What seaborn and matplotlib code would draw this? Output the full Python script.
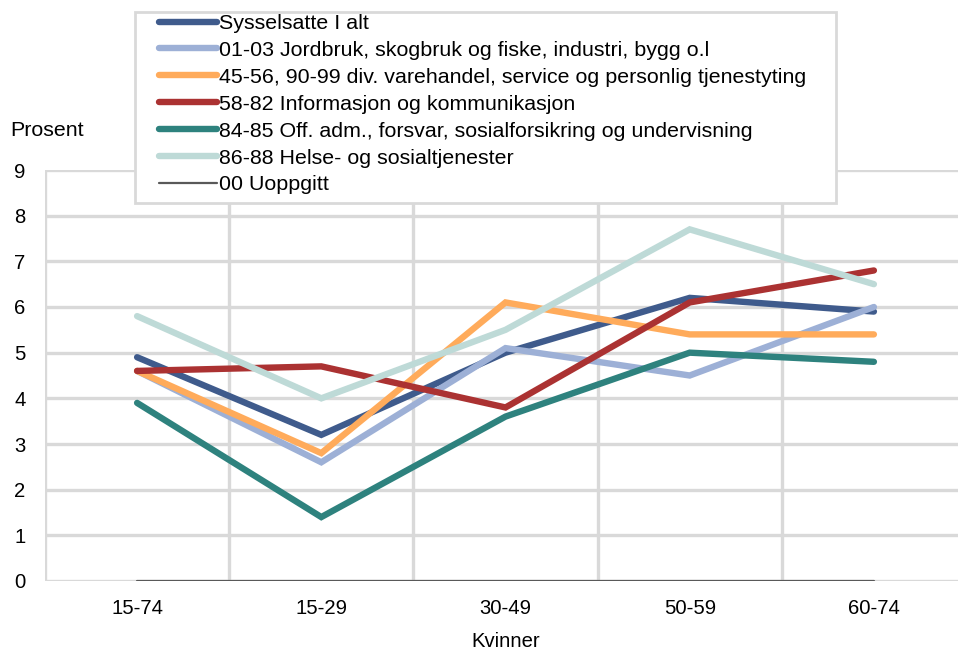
import matplotlib
matplotlib.use("Agg")
import matplotlib.pyplot as plt
import seaborn as sns
import pandas as pd
import numpy as np
from matplotlib.lines import Line2D
from matplotlib.patches import Rectangle

categories = ["15-74", "15-29", "30-49", "50-59", "60-74"]
series_names = [
    "Sysselsatte I alt",
    "01-03 Jordbruk, skogbruk og fiske, industri, bygg o.l",
    "45-56, 90-99 div. varehandel, service og personlig tjenestyting",
    "58-82 Informasjon og kommunikasjon",
    "84-85 Off. adm., forsvar, sosialforsikring og undervisning",
    "86-88 Helse- og sosialtjenester",
    "00 Uoppgitt",
]
sysselsatte = [4.9, 3.2, 5.0, 6.2, 5.9]
jordbruk = [4.6, 2.6, 5.1, 4.5, 6.0]
varehandel = [4.6, 2.8, 6.1, 5.4, 5.4]
informasjon = [4.6, 4.7, 3.8, 6.1, 6.8]
offadm = [3.9, 1.4, 3.6, 5.0, 4.8]
helse = [5.8, 4.0, 5.5, 7.7, 6.5]
uoppgitt = [0, 0, 0, 0, 0]
values = [sysselsatte, jordbruk, varehandel, informasjon, offadm, helse, uoppgitt]

colors = ["#3F5B8C", "#9DB0D6", "#FFAB5B", "#AB3232", "#2E827E", "#BEDAD7", "#595959"]
widths = [4.6, 4.6, 4.6, 4.6, 4.6, 4.6, 1.6]

rows = []
for name, vals in zip(series_names, values):
    for i, (c, v) in enumerate(zip(categories, vals)):
        rows.append({"serie": name, "x": i, "kategori": c, "verdi": v})
df = pd.DataFrame(rows)

sns.set_style("white")
plt.rcParams["font.family"] = ["Liberation Sans", "DejaVu Sans"]
plt.rcParams["text.color"] = "black"
plt.rcParams["axes.labelcolor"] = "black"
plt.rcParams["xtick.color"] = "black"
plt.rcParams["ytick.color"] = "black"
FS = 14.6
LFS = 15.4

fig = plt.figure(figsize=(9.58, 6.5), dpi=100)
ax = fig.add_axes([45 / 958, 1 - 581 / 650, 921 / 958, (581 - 170) / 650])

for name, col, lw in zip(series_names, colors, widths):
    sub = df[df["serie"] == name]
    sns.lineplot(data=sub, x="x", y="verdi", ax=ax, color=col, linewidth=lw,
                 solid_capstyle="round", solid_joinstyle="miter", legend=False,
                 zorder=3)

ax.set_xlim(-0.5, 4.5)
ax.set_ylim(0, 9)
ax.set_xticks(range(len(categories)))
ax.set_xticklabels(categories, fontsize=FS)
ax.set_xticks(np.arange(-0.5, 5.0, 1.0), minor=True)
ax.set_yticks(range(0, 10))
ax.set_yticklabels([str(i) for i in range(0, 10)], fontsize=FS)
ax.tick_params(axis="both", which="both", length=0)
ax.tick_params(axis="x", pad=13)
ax.tick_params(axis="y", pad=14)
ax.grid(False)
ax.yaxis.grid(True, color="#D9D9D9", linewidth=2.4, zorder=0)
ax.xaxis.grid(True, which="minor", color="#D9D9D9", linewidth=2.4, zorder=0)
ax.set_axisbelow(True)
for s in ax.spines.values():
    s.set_visible(False)
ax.set_xlabel("Kvinner", fontsize=FS, labelpad=10)
ax.set_ylabel("")
fig.text(10 / 958, 1 - 131 / 650, "Prosent", fontsize=LFS, ha="left", va="center")

# legend frame
frame = Rectangle((135 / 958, 1 - 203 / 650), (836 - 135) / 958, (203 - 12) / 650,
                  transform=fig.transFigure, facecolor="white", edgecolor="#D9D9D9",
                  linewidth=2.0, zorder=9)
fig.patches.append(frame)

handles = [Line2D([0], [0], color=c, linewidth=lw, solid_capstyle="round")
           for c, lw in zip(colors, widths)]
leg = fig.legend(handles, series_names, loc="upper left",
                 bbox_to_anchor=(159 / 958, 1 - 14 / 650), bbox_transform=fig.transFigure,
                 borderaxespad=0, fontsize=LFS, handlelength=2.7, handletextpad=0.1,
                 labelspacing=0.37, borderpad=0, frameon=False)
leg.set_zorder(10)

fig.savefig("out.png", dpi=100)
